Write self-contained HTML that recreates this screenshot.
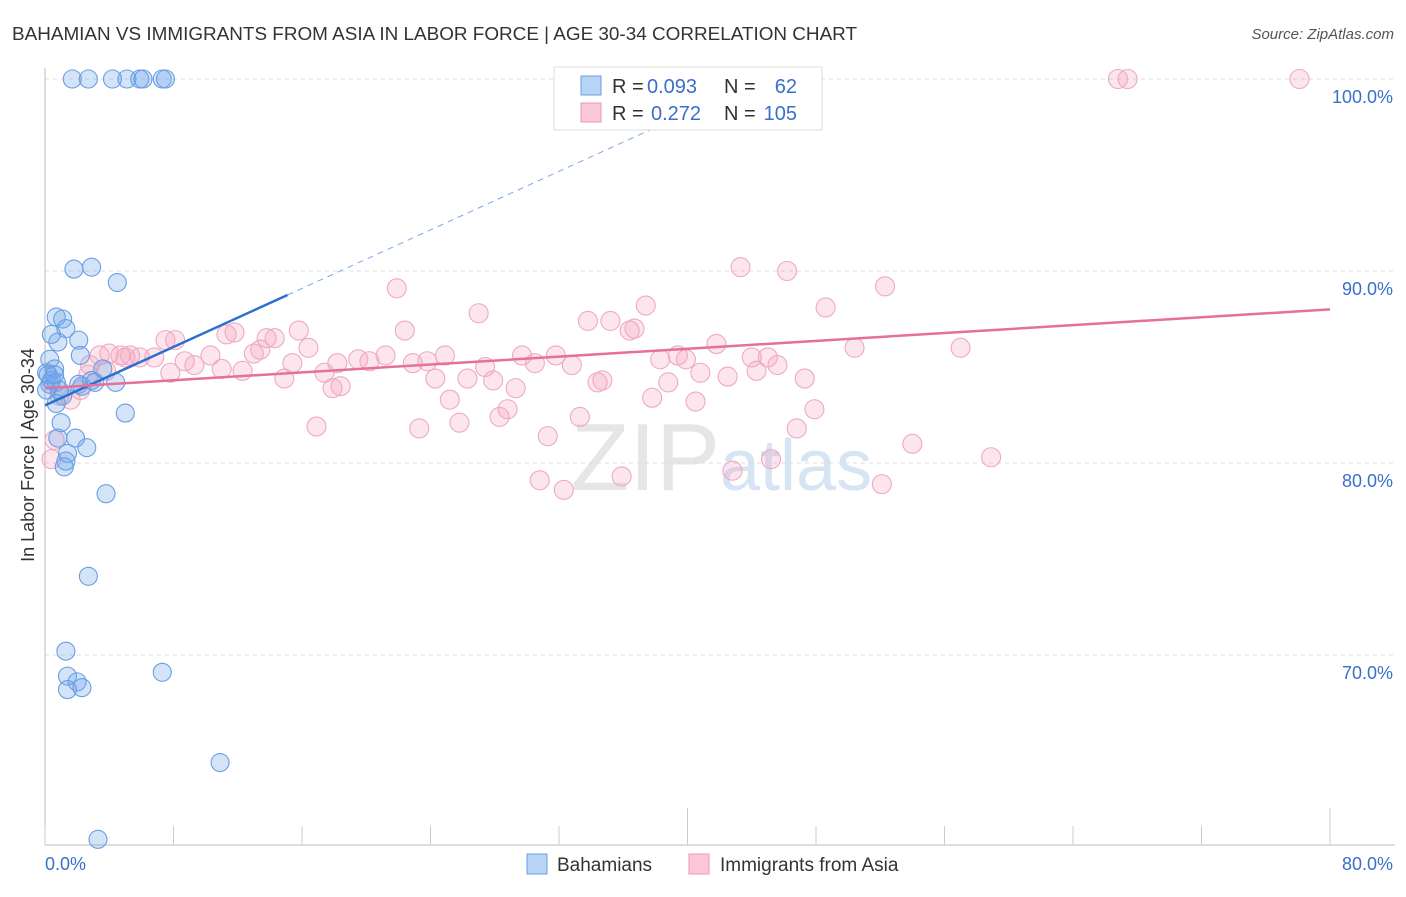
<!DOCTYPE html>
<html><head><meta charset="utf-8"><style>
body{margin:0;background:#fff;font-family:"Liberation Sans",sans-serif;}
svg text{font-family:"Liberation Sans",sans-serif;}
</style></head><body>
<svg id="c" width="1406" height="892" xmlns="http://www.w3.org/2000/svg">
<text x="12" y="40" font-size="18.9" fill="#333">BAHAMIAN VS IMMIGRANTS FROM ASIA IN LABOR FORCE | AGE 30-34 CORRELATION CHART</text>
<text x="1394" y="39" font-size="15" fill="#555" font-style="italic" text-anchor="end">Source: ZipAtlas.com</text>
<text x="720" y="490" font-size="96" fill="#e6e6e6" font-family="Liberation Serif" text-anchor="end">ZIP</text>
<text x="720" y="490" font-size="72" fill="#d6e4f4">atlas</text>
<g id="grid"></g><g id="axes"></g><g id="pts"></g><g id="trend"></g>
<g>
<rect x="554" y="67" width="268" height="63" fill="#fff" stroke="#ddd"/>
<rect x="581" y="76" width="20" height="19" fill="#b8d4f5" stroke="#6a9ee0"/>
<rect x="581" y="103" width="20" height="19" fill="#fbc8d8" stroke="#e89ab3"/>
<text x="612" y="93" font-size="20" fill="#333">R =</text>
<text x="647" y="93" font-size="20" fill="#3a6fcc">0.093</text>
<text x="724" y="93" font-size="20" fill="#333">N =</text>
<text x="797" y="93" font-size="20" fill="#3a6fcc" text-anchor="end">62</text>
<text x="612" y="120" font-size="20" fill="#333">R =</text>
<text x="651" y="120" font-size="20" fill="#3a6fcc">0.272</text>
<text x="724" y="120" font-size="20" fill="#333">N =</text>
<text x="797" y="120" font-size="20" fill="#3a6fcc" text-anchor="end">105</text>
</g>
<text x="34" y="455" font-size="18" fill="#333" transform="rotate(-90 34 455)" text-anchor="middle">In Labor Force | Age 30-34</text>
<text x="45" y="870" font-size="18" fill="#3a6fcc">0.0%</text>
<text x="1393" y="870" font-size="18" fill="#3a6fcc" text-anchor="end">80.0%</text>
<g>
<rect x="527" y="854" width="20" height="20" fill="#b8d4f5" stroke="#6a9ee0"/>
<text x="557" y="871" font-size="19" fill="#333">Bahamians</text>
<rect x="689" y="854" width="20" height="20" fill="#fbc8d8" stroke="#e89ab3"/>
<text x="720" y="871" font-size="19" fill="#333">Immigrants from Asia</text>
</g>
</svg>
<script>
const yTicks=[100,90,80,70];
const yTickLabels=["100.0%","90.0%","80.0%","70.0%"];
const blueX=[1.7,2.7,4.2,5.1,5.9,6.1,7.3,7.5,1.8,2.9,4.5,0.7,1.1,1.3,2.1,0.8,0.4,2.2,0.3,0.6,0.1,0.2,0.4,0.7,0.9,1.1,0.7,2.1,2.3,2.9,3.1,4.4,3.6,5.0,1.0,1.9,0.8,1.4,2.6,1.3,1.2,3.8,2.7,1.3,1.4,2.0,1.4,2.3,7.3,10.9,3.3,0.3,0.1,0.6];
const blueY=[100,100,100,100,100,100,100,100,90.1,90.2,89.4,87.6,87.5,87.0,86.4,86.3,86.7,85.6,85.4,84.9,84.7,84.6,84.3,84.2,83.8,83.5,83.1,84.1,84.0,84.3,84.2,84.2,84.9,82.6,82.1,81.3,81.3,80.5,80.8,80.1,79.8,78.4,74.1,70.2,68.9,68.6,68.2,68.3,69.1,64.4,60.4,84.1,83.8,84.6];
const pinkX=[66.8,67.4,78.1,43.3,46.2,21.9,27.0,37.4,48.6,52.3,33.8,35.2,36.4,36.7,11.3,11.8,15.8,22.4,8.1,7.5,13.8,14.3,16.4,41.8,50.4,57.0,3.4,4.0,4.7,5.3,5.9,6.8,8.7,9.3,10.3,11.0,12.3,13.0,13.4,15.4,17.4,18.2,19.5,20.2,21.2,22.9,23.8,24.9,27.4,29.7,30.5,31.8,32.8,38.3,39.4,39.9,40.8,44.0,45.0,45.6,44.3,42.5,14.9,17.9,18.4,26.3,27.9,24.3,29.3,34.4,34.7,38.8,47.3,7.8,2.7,3.8,25.2,28.8,28.3,33.3,37.8,40.5,47.9,16.9,23.3,25.8,31.3,46.8,54.0,58.9,45.2,30.8,32.3,35.9,42.8,52.1,0.9,1.6,0.6,2.2,2.8,5.0,0.4];
const pinkY=[100,100,100,90.2,90.0,89.1,87.8,88.2,88.1,89.2,87.4,87.4,86.9,87.0,86.7,86.8,86.9,86.9,86.4,86.4,86.5,86.5,86.0,86.2,86.0,86.0,85.6,85.7,85.6,85.6,85.5,85.5,85.3,85.1,85.6,84.9,84.8,85.7,85.9,85.2,84.7,85.2,85.4,85.3,85.6,85.2,85.3,85.6,85.0,85.6,85.2,85.6,85.1,85.4,85.6,85.4,84.7,85.5,85.5,85.1,84.8,84.5,84.4,83.9,84.0,84.4,84.3,84.4,83.9,84.2,84.3,84.2,84.4,84.7,84.6,84.8,83.3,82.8,82.4,82.4,83.4,83.2,82.8,81.9,81.8,82.1,81.4,81.8,81.0,80.3,80.2,79.1,78.6,79.3,79.6,78.9,83.5,83.3,81.2,83.8,85.1,85.5,80.2];
const blueTrend=[[0,83.0],[15.1,88.75]];
const blueDash=[[15.1,88.75],[42,99.0]];
const pinkTrend=[[0,83.9],[80,88.0]];
const NS="http://www.w3.org/2000/svg";
const sx=v=>45+v*(1285/80);
const sy=v=>79+(100-v)*19.2;
function mk(t,a,p){const e=document.createElementNS(NS,t);for(const k in a)e.setAttribute(k,a[k]);p.appendChild(e);return e;}
const grid=document.getElementById('grid'),axes=document.getElementById('axes'),pts=document.getElementById('pts'),tr=document.getElementById('trend');
yTicks.forEach((t,i)=>{
 const l=mk('line',{x1:45,x2:1395,y1:sy(t),y2:sy(t),stroke:'#ddd','stroke-dasharray':'4,4'},grid);
 
 
 const tx=mk('text',{x:1393,y:sy(t)+24,'font-size':18,fill:'#3a6fcc','text-anchor':'end'},grid);
 tx.textContent=yTickLabels[i];
 
 
});
const ya=mk('line',{x1:45,x2:45,y1:68,y2:845,stroke:'#bbb'},axes);


const xa=mk('line',{x1:45,x2:1395,y1:845,y2:845,stroke:'#bbb'},axes);


for(let v=0;v<=80;v+=8){
 const tk=mk('line',{x1:sx(v),x2:sx(v),y1:(v==40||v==80)?808:826,y2:845,stroke:'#ccc'},axes);
 
 
}
pinkX.forEach((x,i)=>{
 const c=mk('circle',{cx:sx(x),cy:sy(pinkY[i]),r:9.5,fill:'rgba(245,160,190,0.28)',stroke:'#eeaac0','stroke-width':1.1},pts);
 
 
});
blueX.forEach((x,i)=>{
 const c=mk('circle',{cx:sx(x),cy:sy(blueY[i]),r:9,fill:'rgba(110,165,235,0.3)',stroke:'#6a9ee2','stroke-width':1.1},pts);
 
 
});
const bt=mk('line',{x1:sx(blueTrend[0][0]),y1:sy(blueTrend[0][1]),x2:sx(blueTrend[1][0]),y2:sy(blueTrend[1][1]),stroke:'#2a70d0','stroke-width':2.5},tr);


const bd=mk('line',{x1:sx(blueDash[0][0]),y1:sy(blueDash[0][1]),x2:sx(blueDash[1][0]),y2:sy(blueDash[1][1]),stroke:'#7aa8e6','stroke-width':1,'stroke-dasharray':'6,5'},tr);


const pt=mk('line',{x1:sx(pinkTrend[0][0]),y1:sy(pinkTrend[0][1]),x2:sx(pinkTrend[1][0]),y2:sy(pinkTrend[1][1]),stroke:'#e5709a','stroke-width':2.5},tr);


</script>
</body></html>
